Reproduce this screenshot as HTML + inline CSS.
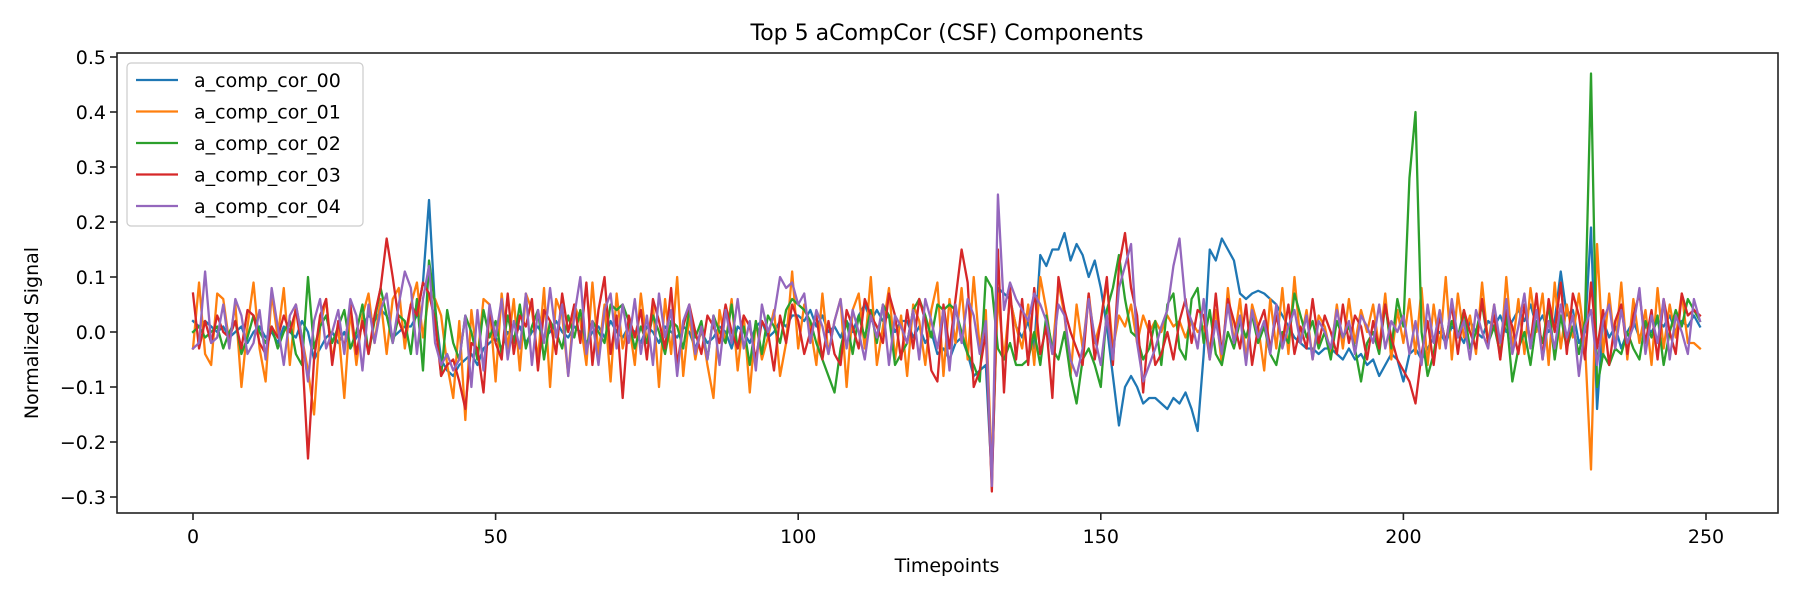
<!DOCTYPE html>
<html><head><meta charset="utf-8"><style>
html,body{margin:0;padding:0;background:#fff;}
svg{display:block;font-family:"DejaVu Sans","Liberation Sans",sans-serif;}
</style></head><body>
<svg id="chart" width="1800" height="600">
<rect x="0" y="0" width="1800" height="600" fill="#fff"/>
<text x="947" y="40" font-size="22" text-anchor="middle">Top 5 aCompCor (CSF) Components</text>
<g id="plot"></g>
<g id="axes"></g>
<text x="947" y="572" font-size="19" text-anchor="middle">Timepoints</text>
<text transform="translate(38,333) rotate(-90)" font-size="19" text-anchor="middle">Normalized Signal</text>
<g id="legend"></g>
</svg>
<script>
const seriesNames=["a_comp_cor_00","a_comp_cor_01","a_comp_cor_02","a_comp_cor_03","a_comp_cor_04"];
const seriesColors=["#1f77b4","#ff7f0e","#2ca02c","#d62728","#9467bd"];
const xTicks=[0,50,100,150,200,250];
const yTicks=[-0.3,-0.2,-0.1,0.0,0.1,0.2,0.3,0.4,0.5];
const yTickLabels=["\u22120.3","\u22120.2","\u22120.1","0.0","0.1","0.2","0.3","0.4","0.5"];
const comp00=[0.02,0.01,0.02,0.01,0.00,0.01,-0.01,0.00,0.01,-0.02,0.00,0.01,-0.01,0.00,-0.02,0.01,0.00,-0.01,0.02,0.00,-0.05,-0.03,-0.01,0.00,-0.02,
0.00,-0.03,-0.01,0.01,0.03,0.02,0.04,0.03,-0.01,0.00,0.01,0.01,0.03,0.09,0.24,0.04,-0.05,-0.07,-0.08,-0.06,-0.05,-0.04,-0.06,-0.03,-0.02,
-0.01,-0.03,0.00,-0.01,0.01,-0.02,0.00,0.01,-0.01,0.00,0.02,0.00,-0.01,0.01,0.00,-0.02,0.00,0.01,-0.01,0.02,0.00,-0.01,0.01,0.00,-0.02,
0.01,0.00,-0.02,0.01,0.00,-0.01,0.01,0.00,-0.03,0.00,-0.02,-0.01,0.01,0.00,-0.03,0.01,0.00,-0.02,0.01,0.02,-0.01,0.00,0.02,0.01,0.03,
0.03,0.02,0.04,0.01,0.03,0.00,0.01,-0.01,0.02,0.00,0.03,0.05,0.02,0.04,0.02,0.03,0.00,0.02,0.02,-0.01,0.01,-0.02,0.00,-0.04,-0.03,
-0.05,-0.02,-0.01,-0.04,-0.08,-0.07,-0.06,-0.27,0.08,0.07,0.06,0.01,-0.01,0.02,-0.03,0.14,0.12,0.15,0.15,0.18,0.13,0.16,0.14,0.10,0.13,
0.08,0.01,-0.08,-0.17,-0.10,-0.08,-0.10,-0.13,-0.12,-0.12,-0.13,-0.14,-0.12,-0.13,-0.11,-0.14,-0.18,-0.04,0.15,0.13,0.17,0.15,0.13,0.07,0.06,
0.07,0.075,0.07,0.06,0.05,0.03,0.01,-0.01,-0.02,-0.03,-0.03,-0.04,-0.03,-0.03,-0.04,-0.05,-0.03,-0.05,-0.04,-0.06,-0.05,-0.08,-0.06,-0.04,-0.05,
-0.09,-0.04,-0.03,-0.05,-0.03,-0.01,0.00,-0.02,0.01,0.00,-0.02,0.02,0.00,-0.01,0.02,0.01,0.03,0.00,0.02,0.04,0.02,0.05,0.01,0.03,0.00,
0.02,0.11,0.03,0.04,-0.02,0.00,0.19,-0.14,0.02,-0.01,0.01,-0.03,0.00,0.02,-0.01,0.01,0.00,0.02,0.01,0.03,0.00,0.02,0.01,0.03,0.01];
const comp01=[-0.03,0.09,-0.04,-0.06,0.07,0.06,-0.02,0.05,-0.10,0.01,0.09,-0.03,-0.09,0.07,-0.01,0.08,-0.06,0.05,-0.01,-0.07,-0.15,0.01,0.06,-0.05,0.01,
-0.12,0.04,-0.06,0.03,0.07,-0.02,0.06,-0.04,0.06,0.08,-0.03,0.05,0.09,-0.01,0.07,0.06,0.03,-0.06,-0.12,0.02,-0.16,0.04,-0.05,0.06,0.05,
-0.09,0.07,-0.03,0.06,-0.07,0.07,0.04,-0.05,0.08,-0.10,0.06,0.03,-0.08,0.05,0.02,-0.06,0.09,-0.04,0.05,-0.09,0.07,-0.03,0.02,-0.06,0.07,
-0.02,0.05,-0.10,0.06,-0.04,0.10,-0.08,0.03,-0.05,0.01,-0.06,-0.12,0.04,-0.02,0.06,-0.07,0.03,-0.11,0.02,-0.05,-0.01,0.04,-0.08,-0.02,0.11,
-0.03,0.05,0.01,-0.06,0.07,-0.04,0.02,0.06,-0.10,0.04,0.07,-0.03,0.10,-0.06,0.01,0.08,-0.05,0.03,-0.08,0.05,0.02,-0.06,0.04,0.09,-0.08,
0.06,-0.02,0.08,-0.05,0.10,-0.03,0.04,-0.25,0.07,-0.05,0.06,0.01,-0.03,0.05,-0.06,0.10,0.04,-0.04,0.09,0.03,-0.08,0.05,-0.03,0.07,-0.02,
0.02,0.09,-0.03,0.03,0.01,0.05,-0.02,0.03,0.00,0.02,0.00,0.03,0.01,0.02,-0.01,0.02,0.00,0.01,-0.03,0.04,-0.06,0.08,-0.02,0.06,-0.05,
0.05,0.01,-0.07,0.06,-0.03,0.08,-0.04,0.10,-0.02,0.04,-0.05,0.03,0.01,-0.04,0.05,-0.03,0.06,-0.02,0.04,0.00,0.05,-0.03,0.07,-0.05,0.04,
-0.02,0.06,-0.04,0.08,-0.06,0.05,-0.03,0.10,-0.05,0.07,-0.01,0.03,-0.04,0.09,-0.02,0.05,-0.05,0.10,-0.03,0.06,-0.04,0.08,0.00,0.07,-0.06,
0.09,-0.03,0.05,-0.01,0.07,-0.02,-0.25,0.16,-0.04,0.07,-0.03,0.09,-0.05,0.06,-0.02,0.04,-0.06,0.08,-0.03,0.05,-0.01,0.07,-0.02,-0.02,-0.03];
const comp02=[0.00,0.01,-0.01,0.00,0.01,-0.03,0.00,0.02,-0.04,-0.01,0.03,0.00,-0.02,0.01,-0.03,0.00,0.02,-0.04,-0.06,0.10,-0.03,0.01,0.03,-0.02,0.01,
0.04,-0.03,0.00,0.05,-0.04,0.02,0.08,0.03,-0.02,0.03,0.02,-0.04,0.06,-0.07,0.13,0.05,-0.08,0.04,-0.02,-0.05,0.03,0.00,-0.05,0.04,-0.01,
0.02,-0.04,0.03,-0.02,0.05,-0.03,0.01,0.04,-0.05,0.02,0.00,-0.03,0.03,-0.01,0.04,-0.03,0.02,0.00,-0.02,0.05,0.04,0.05,0.02,-0.03,0.01,
-0.02,0.03,0.00,-0.04,0.02,0.01,-0.03,0.04,-0.01,0.02,-0.05,0.03,0.00,-0.02,0.05,-0.03,0.01,-0.06,0.02,-0.04,0.03,0.01,-0.02,0.04,0.06,
0.05,0.04,0.02,-0.02,-0.05,-0.08,-0.11,-0.03,0.02,-0.04,0.03,-0.01,0.04,-0.02,0.05,0.03,-0.06,-0.04,-0.02,0.04,0.06,0.03,-0.01,0.05,0.04,
0.05,0.04,0.00,-0.04,-0.06,-0.09,0.10,0.08,-0.03,-0.05,-0.02,-0.06,-0.06,-0.05,0.00,-0.06,0.03,-0.03,-0.05,0.00,-0.08,-0.13,-0.05,-0.03,-0.06,
-0.10,0.04,0.08,0.14,0.06,0.00,-0.01,-0.05,-0.03,0.02,-0.06,0.05,0.07,-0.03,-0.05,0.06,0.08,-0.02,0.04,-0.04,-0.06,0.00,-0.03,0.02,-0.01,
0.03,-0.02,0.01,-0.04,-0.06,0.00,-0.02,0.07,0.03,-0.01,0.02,-0.03,0.00,-0.05,0.02,-0.01,0.01,-0.03,-0.09,-0.02,0.00,-0.04,0.05,-0.03,0.06,
0.01,0.28,0.40,0.00,-0.08,-0.04,0.03,-0.02,0.02,-0.01,0.04,-0.03,0.00,0.05,-0.02,0.01,-0.04,0.03,-0.09,-0.03,0.00,-0.06,0.02,-0.02,0.05,
-0.05,0.03,-0.03,0.01,-0.04,0.02,0.47,-0.10,-0.04,-0.06,-0.03,-0.04,0.00,-0.03,-0.05,0.02,-0.01,0.03,-0.06,0.00,0.04,0.01,0.06,0.04,0.02];
const comp03=[0.07,-0.03,0.02,-0.02,0.03,0.00,-0.01,0.02,-0.03,0.04,0.03,-0.02,-0.04,0.01,-0.01,0.03,0.00,0.04,-0.03,-0.23,-0.05,0.03,0.06,-0.06,0.02,
-0.03,0.05,-0.04,0.02,-0.04,0.03,0.08,0.17,0.10,0.02,-0.01,0.05,0.03,0.09,0.07,0.02,-0.08,-0.06,-0.05,-0.09,-0.14,-0.02,-0.03,-0.11,0.04,
-0.02,-0.05,0.07,-0.04,0.03,0.01,0.06,-0.07,0.04,0.02,-0.04,0.07,0.00,0.05,-0.02,0.09,-0.06,0.04,0.10,-0.04,0.03,-0.12,0.03,-0.01,0.04,
-0.05,0.06,0.02,-0.03,0.08,-0.06,0.01,0.05,0.00,-0.04,0.03,0.01,-0.02,0.05,0.00,-0.03,0.03,0.01,-0.05,0.02,0.00,-0.07,0.03,-0.02,0.05,
0.02,-0.04,0.00,0.03,-0.05,0.02,-0.04,-0.06,0.04,0.01,-0.03,0.06,0.03,0.01,-0.02,0.07,0.03,-0.05,0.04,-0.03,0.06,0.02,-0.07,-0.09,0.05,
-0.03,0.06,0.15,0.09,-0.10,-0.07,0.00,-0.29,0.15,-0.11,0.08,-0.05,0.06,-0.06,0.08,-0.04,0.01,-0.12,0.10,0.04,0.00,-0.03,-0.06,0.07,-0.05,
0.02,0.10,-0.06,0.12,0.18,0.08,0.03,-0.11,0.02,-0.06,-0.04,0.00,-0.05,0.02,0.06,-0.02,0.04,0.03,-0.05,0.07,-0.04,0.06,0.02,-0.03,0.05,
-0.06,0.01,0.04,-0.03,0.03,-0.02,0.05,-0.04,0.01,-0.03,0.06,-0.02,0.03,0.00,-0.04,0.05,-0.02,0.03,0.01,-0.05,0.02,-0.03,0.05,-0.01,-0.05,
-0.07,-0.09,-0.13,-0.04,0.02,-0.06,0.03,-0.02,0.05,-0.04,0.04,0.00,-0.03,0.06,-0.02,0.03,-0.05,0.04,0.01,-0.04,0.05,-0.02,0.07,-0.05,0.06,
0.00,0.09,-0.04,0.07,0.03,-0.05,0.09,-0.03,0.04,-0.06,0.02,0.05,-0.04,0.03,0.07,-0.02,0.04,-0.05,0.06,0.00,-0.04,0.07,0.03,0.04,0.03];
const comp04=[-0.03,-0.02,0.11,-0.02,-0.01,0.05,-0.03,0.06,0.03,-0.04,-0.02,0.04,-0.05,0.08,0.01,-0.06,0.03,0.05,-0.01,-0.09,0.02,0.06,-0.03,0.00,0.04,
-0.04,0.06,0.03,-0.07,0.05,-0.02,0.04,0.07,-0.02,0.05,0.11,0.08,-0.04,0.06,0.12,-0.02,-0.06,-0.04,-0.07,-0.05,0.03,-0.10,0.04,-0.07,0.05,
-0.01,0.06,-0.05,0.02,-0.03,0.07,-0.06,0.04,-0.02,0.08,-0.01,0.05,-0.08,0.03,0.10,-0.04,0.02,-0.06,0.04,0.07,-0.03,0.05,-0.02,0.06,-0.04,
0.03,-0.06,0.07,-0.01,0.04,-0.08,0.02,0.05,-0.04,0.01,-0.05,0.03,-0.06,0.04,-0.02,0.06,-0.03,0.02,-0.07,0.05,0.00,0.03,0.10,0.08,0.09,
0.05,0.07,-0.02,0.04,0.01,-0.04,0.02,0.06,-0.03,0.04,0.00,-0.05,0.03,-0.01,0.05,-0.06,0.03,0.01,-0.02,0.04,-0.05,0.06,0.02,-0.03,0.04,
-0.07,0.05,-0.02,0.06,0.03,-0.04,0.02,-0.28,0.25,0.04,0.09,0.06,0.04,0.02,0.07,0.05,0.02,-0.04,0.05,0.03,-0.05,-0.08,-0.03,0.06,-0.01,
-0.06,0.03,-0.05,0.08,0.12,0.16,-0.02,-0.09,-0.06,-0.03,0.01,0.04,0.12,0.17,0.05,0.02,-0.03,0.06,-0.05,0.02,-0.04,0.05,-0.02,0.03,-0.06,
0.04,-0.01,0.02,-0.04,0.05,-0.03,0.01,0.04,-0.02,0.03,-0.05,0.02,0.00,-0.03,0.04,-0.01,0.02,-0.04,0.03,0.01,-0.02,0.05,-0.03,0.02,0.00,
0.03,-0.04,0.02,-0.06,0.05,-0.02,0.04,-0.03,0.06,-0.01,0.02,-0.05,0.04,0.00,-0.03,0.05,-0.02,0.06,-0.04,0.01,0.07,-0.03,0.04,-0.05,0.02,
-0.03,0.05,-0.01,0.03,-0.08,0.01,0.04,-0.06,0.02,0.05,-0.03,0.04,-0.02,0.01,0.08,-0.04,0.03,-0.02,0.06,-0.05,0.03,0.00,-0.04,0.06,0.02];
const allSeries=[comp00,comp01,comp02,comp03,comp04];

const NS="http://www.w3.org/2000/svg";
const L=117,R=1778,T=53,B=513;
function xs(v){return 193+v*6.052;}
function ys(v){return 332-v*550;}
const plot=document.getElementById('plot');
const axes=document.getElementById('axes');
function mk(tag,attrs,parent){const e=document.createElementNS(NS,tag);for(const k in attrs)e.setAttribute(k,attrs[k]);parent.appendChild(e);return e;}

allSeries.forEach((arr,si)=>{
  const d=arr.map((v,i)=>(i?'L':'M')+xs(i).toFixed(2)+','+ys(v).toFixed(2)).join('');
  const p=mk('path',{d:d,fill:'none',stroke:seriesColors[si],'stroke-width':2.3,'stroke-linejoin':'round','stroke-linecap':'square'},plot);
  
  
});

const frame=mk('rect',{x:L,y:T,width:R-L,height:B-T,fill:'none',stroke:'#222','stroke-width':1.6},axes);


xTicks.forEach(t=>{
  const x=xs(t);
  const tk=mk('line',{x1:x,x2:x,y1:B,y2:B+7,stroke:'#222','stroke-width':1.6},axes);
  
  
  const tx=mk('text',{x:x,y:B+30,'font-size':19,'text-anchor':'middle'},axes);
  tx.textContent=String(t);
  
  
});
yTicks.forEach((t,i)=>{
  const y=ys(t);
  const tk=mk('line',{x1:L-7,x2:L,y1:y,y2:y,stroke:'#222','stroke-width':1.6},axes);
  
  
  const tx=mk('text',{x:L-11,y:y+7,'font-size':19,'text-anchor':'end'},axes);
  tx.textContent=yTickLabels[i];
  
  
});

const lg=document.getElementById('legend');
const box=mk('rect',{x:127,y:63,width:236,height:163,rx:4,fill:'#fff','fill-opacity':0.85,stroke:'#ccc','stroke-width':1.2},lg);


seriesNames.forEach((n,i)=>{
  const y=80+i*31.5;
  const g=mk('g',{},lg);
  
  
  mk('line',{x1:136,x2:178,y1:y,y2:y,stroke:seriesColors[i],'stroke-width':2.3},g);
  const t=mk('text',{x:194,y:y+7,'font-size':19},g);
  t.textContent=n;
});
</script>
</body></html>
